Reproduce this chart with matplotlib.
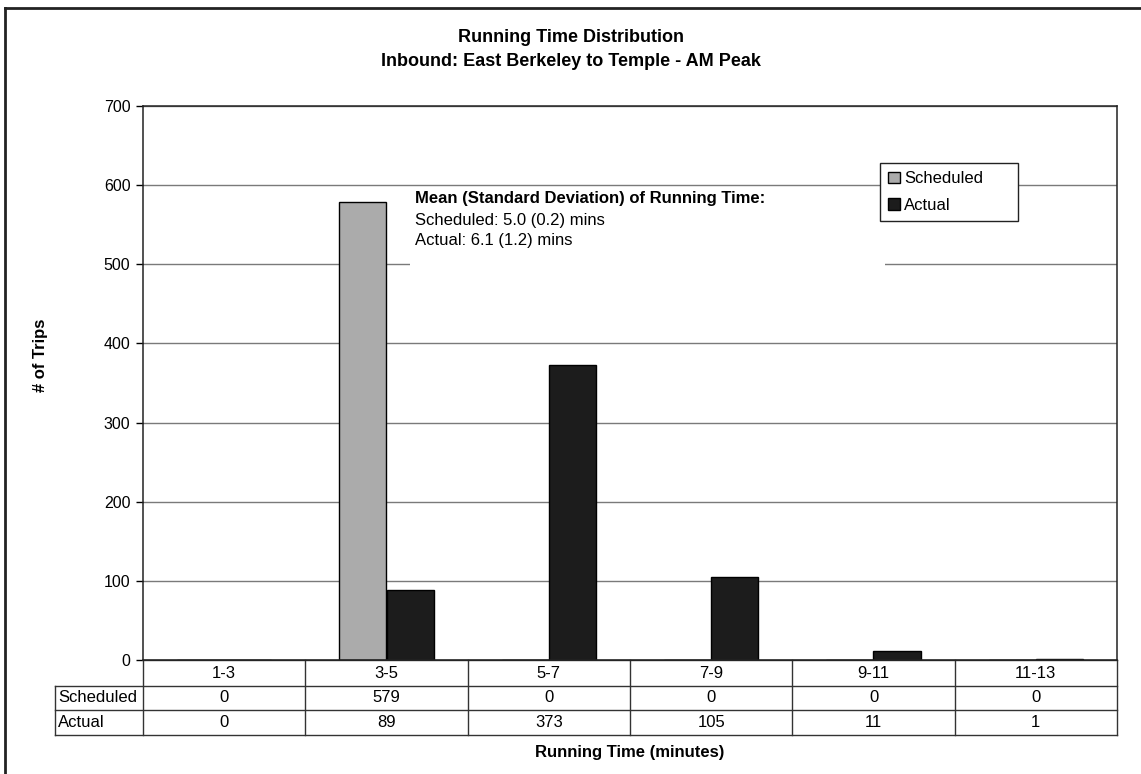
import numpy as np
import matplotlib.pyplot as plt
from matplotlib.lines import Line2D
from matplotlib.patches import Rectangle

plt.rcParams['font.family'] = ['Liberation Sans', 'DejaVu Sans']

categories = ['1-3', '3-5', '5-7', '7-9', '9-11', '11-13']
scheduled = [0, 579, 0, 0, 0, 0]
actual = [0, 89, 373, 105, 11, 1]
series_names = ['Scheduled', 'Actual']
y_ticks = [0, 100, 200, 300, 400, 500, 600, 700]

W, H = 1141, 774
fig = plt.figure(figsize=(W / 100, H / 100), dpi=100)

# plot area in pixels: left 143, right 1117, top 106, bottom 660
L, R, T, B = 143, 1117, 106, 660
ax = fig.add_axes([L / W, 1 - B / H, (R - L) / W, (B - T) / H])

fs = 12

x = np.arange(len(categories))
bw = 0.29
ax.bar(x - bw / 2, scheduled, width=bw, color='#ababab', edgecolor='black',
       linewidth=1, label=series_names[0], zorder=2)
ax.bar(x + bw / 2, actual, width=bw, color='#1c1c1c', edgecolor='black',
       linewidth=1, label=series_names[1], zorder=2)

ax.set_xlim(-0.5, len(categories) - 0.5)
ax.set_ylim(0, 700)
ax.set_yticks(y_ticks)
ax.set_yticklabels([str(v) for v in y_ticks], fontsize=11.5)
ax.tick_params(axis='y', direction='out', length=5, width=1, pad=4)
ax.set_xticks([])
ax.set_axisbelow(True)
ax.yaxis.grid(True, color='#7a7a7a', linewidth=1)
for s in ax.spines.values():
    s.set_color('#222222')
    s.set_linewidth(1.1)

pw, ph = R - L, B - T
def ax_x(px):
    return (px - L) / pw
def ax_y(py):
    return (B - py) / ph

# white box behind the summary text
ax.add_patch(Rectangle((ax_x(410), ax_y(272)), ax_x(885) - ax_x(410),
                       ax_y(188) - ax_y(272), transform=ax.transAxes,
                       facecolor='white', edgecolor='none', zorder=1))
ax.text(ax_x(415), ax_y(199), 'Mean (Standard Deviation) of Running Time:',
        transform=ax.transAxes, fontsize=fs, fontweight='bold', va='center', zorder=3)
ax.text(ax_x(415), ax_y(220), 'Scheduled: 5.0 (0.2) mins',
        transform=ax.transAxes, fontsize=fs, va='center', zorder=3)
ax.text(ax_x(415), ax_y(240), 'Actual: 6.1 (1.2) mins',
        transform=ax.transAxes, fontsize=fs, va='center', zorder=3)

leg = ax.legend(loc='upper left',
                bbox_to_anchor=(ax_x(880), ax_y(222), ax_x(1018) - ax_x(880),
                                ax_y(163) - ax_y(222)),
                mode='expand', frameon=True, fancybox=False, edgecolor='#222222',
                fontsize=fs, handlelength=0.7, handleheight=0.7, handletextpad=0.25,
                labelspacing=0.7, borderpad=0.5, borderaxespad=0)
leg.get_frame().set_linewidth(1)
leg.get_frame().set_alpha(1)

# data table under the plot
rows_px = [660, 686, 710, 735]
tl = ax_x(55)
lc = '#333333'
for i, py in enumerate(rows_px):
    x0 = 0 if i == 0 else tl
    ax.add_line(Line2D([x0, 1], [ax_y(py)] * 2, transform=ax.transAxes,
                       color=lc, linewidth=1, clip_on=False))
ax.add_line(Line2D([tl, tl], [ax_y(686), ax_y(735)], transform=ax.transAxes,
                   color=lc, linewidth=1, clip_on=False))
n = len(categories)
for j in range(n + 1):
    xx = j / n
    ax.add_line(Line2D([xx, xx], [ax_y(660), ax_y(735)], transform=ax.transAxes,
                       color=lc, linewidth=1, clip_on=False))

for j, cat in enumerate(categories):
    cx = (j + 0.5) / n
    ax.text(cx, ax_y(673), cat, transform=ax.transAxes, ha='center', va='center', fontsize=fs)
    ax.text(cx, ax_y(698), str(scheduled[j]), transform=ax.transAxes, ha='center', va='center', fontsize=fs)
    ax.text(cx, ax_y(722.5), str(actual[j]), transform=ax.transAxes, ha='center', va='center', fontsize=fs)
ax.text(ax_x(58), ax_y(698), series_names[0], transform=ax.transAxes, ha='left', va='center', fontsize=fs)
ax.text(ax_x(58), ax_y(722.5), series_names[1], transform=ax.transAxes, ha='left', va='center', fontsize=fs)

ax.text(0.5, ax_y(752), 'Running Time (minutes)', transform=ax.transAxes,
        ha='center', va='center', fontsize=fs, fontweight='bold')
ax.text(ax_x(40), ax_y(355), '# of Trips', transform=ax.transAxes, rotation=90,
        ha='center', va='center', fontsize=fs, fontweight='bold')

fig.text(0.5, 1 - 38 / H, 'Running Time Distribution', ha='center', va='center',
         fontsize=13, fontweight='bold')
fig.text(0.5, 1 - 62 / H, 'Inbound: East Berkeley to Temple - AM Peak', ha='center',
         va='center', fontsize=13, fontweight='bold')

# outer chart border (top and left edges)
fig.add_artist(Line2D([5 / W, 1], [1 - 8 / H] * 2, transform=fig.transFigure,
                      color='#222222', linewidth=2))
fig.add_artist(Line2D([5 / W] * 2, [1 - 8 / H, 0], transform=fig.transFigure,
                      color='#222222', linewidth=2))

fig.savefig('out.png', dpi=100)
